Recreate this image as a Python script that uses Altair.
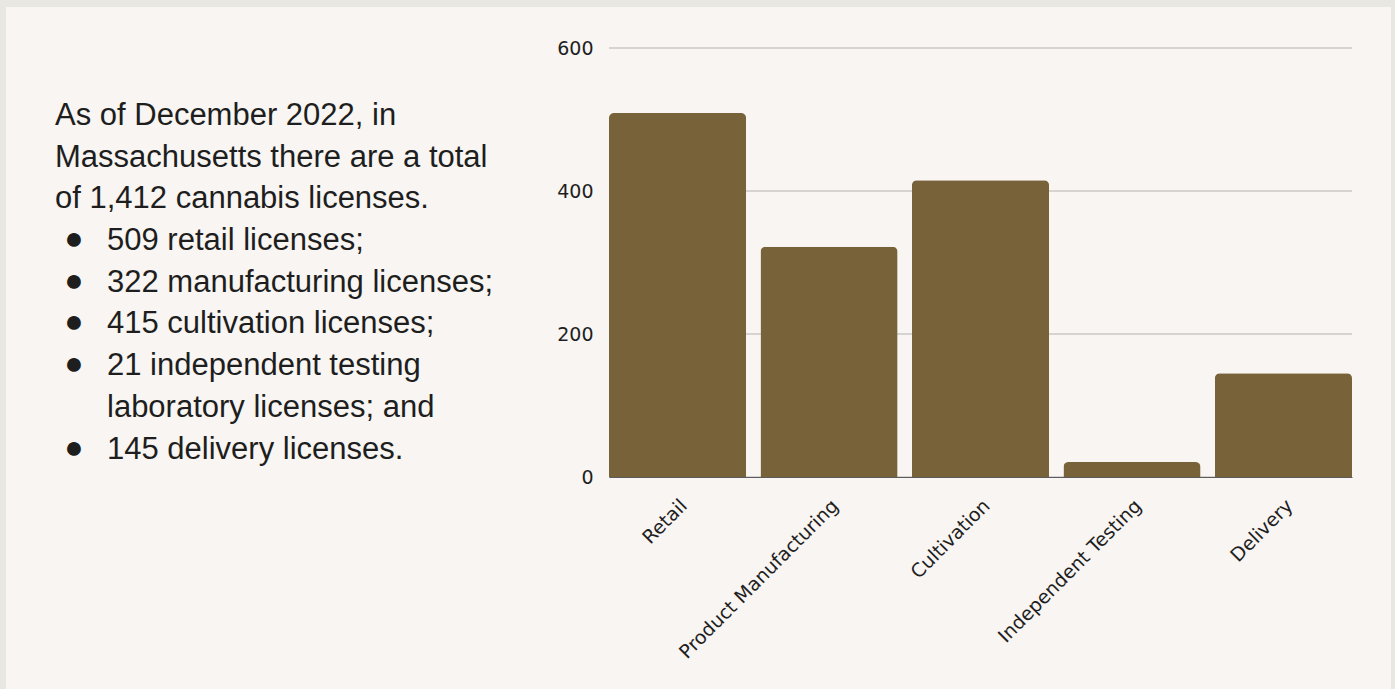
import altair as alt
import pandas as pd

# ---- data ----
categories = ["Retail", "Product Manufacturing", "Cultivation", "Independent Testing", "Delivery"]
licenses = [509, 322, 415, 21, 145]
y_ticks = [0, 200, 400, 600]

paragraph_lines = [
    "As of December 2022, in",
    "Massachusetts there are a total",
    "of 1,412 cannabis licenses.",
]
bullet_lines = [
    "509 retail licenses;",
    "322 manufacturing licenses;",
    "415 cultivation licenses;",
    "21 independent testing",
    "laboratory licenses; and",
    "145 delivery licenses.",
]
# which of the bullet text lines start a new bullet point
bullet_starts = [0, 1, 2, 3, 5]

df = pd.DataFrame({"category": categories, "licenses": licenses})
grid_df = pd.DataFrame({"tick": y_ticks})
one = pd.DataFrame({"k": [0]})

BG_OUTER = "#e9e7e2"
BG_INNER = "#f8f5f2"
BAR = "#786239"
TEXT = "#1e1e1e"
AXIS_FONT = "DejaVu Sans"
BODY_FONT = "Liberation Sans"
LINE_H = 41.7

y_scale = alt.Scale(domain=[0, 600], nice=False)
y_axis = alt.Axis(
    title=None,
    values=y_ticks,
    ticks=False,
    tickSize=0,
    domain=False,
    labelPadding=16,
    labelFont=AXIS_FONT,
    labelFontSize=19,
    labelColor=TEXT,
    grid=False,
    zindex=1,
)

panel = alt.Chart(one).mark_rect(color=BG_INNER).encode(
    x=alt.value(-603), x2=alt.value(782), y=alt.value(-41), y2=alt.value(641)
)

grid = alt.Chart(grid_df).mark_rule(color="#b5b2ae", strokeWidth=1).encode(
    y=alt.Y("tick:Q", scale=y_scale, axis=y_axis),
    x=alt.value(0),
    x2=alt.value(743),
)

bars = alt.Chart(df).mark_bar(
    color=BAR, cornerRadiusTopLeft=5, cornerRadiusTopRight=5
).encode(
    x=alt.X(
        "category:N",
        sort=categories,
        scale=alt.Scale(paddingInner=0.095, paddingOuter=0),
        axis=alt.Axis(
            title=None,
            labelAngle=-45,
            labelOffset=0,
            labelPadding=19,
            labelLimit=0,
            ticks=False,
            tickSize=0,
            domain=True,
            domainColor="#5c5c5c",
            domainWidth=1,
            labelFont=AXIS_FONT,
            labelFontSize=19,
            labelColor=TEXT,
            grid=False,
            zindex=1,
        ),
    ),
    y=alt.Y("licenses:Q", scale=y_scale, axis=y_axis),
)

para = alt.Chart(one).mark_text(
    align="left", baseline="alphabetic", font=BODY_FONT, fontSize=31,
    lineHeight=LINE_H, color=TEXT
).encode(x=alt.value(-554), y=alt.value(77), text=alt.value(paragraph_lines))

bullets_txt = alt.Chart(one).mark_text(
    align="left", baseline="alphabetic", font=BODY_FONT, fontSize=31,
    lineHeight=LINE_H, color=TEXT
).encode(x=alt.value(-502), y=alt.value(202), text=alt.value(bullet_lines))

dots = [
    alt.Chart(one).mark_text(
        align="center", baseline="middle", font=BODY_FONT, fontSize=32, color=TEXT
    ).encode(x=alt.value(-535), y=alt.value(191 + i * LINE_H), text=alt.value("●"))
    for i in bullet_starts
]

chart = alt.layer(panel, grid, bars, para, bullets_txt, *dots).properties(
    width=743,
    height=429,
    background=BG_OUTER,
    padding={"left": 6, "top": 7, "right": 4, "bottom": 0},
).configure_view(stroke=None)

chart.save("out.html", embed_options={"renderer": "svg", "actions": False})
